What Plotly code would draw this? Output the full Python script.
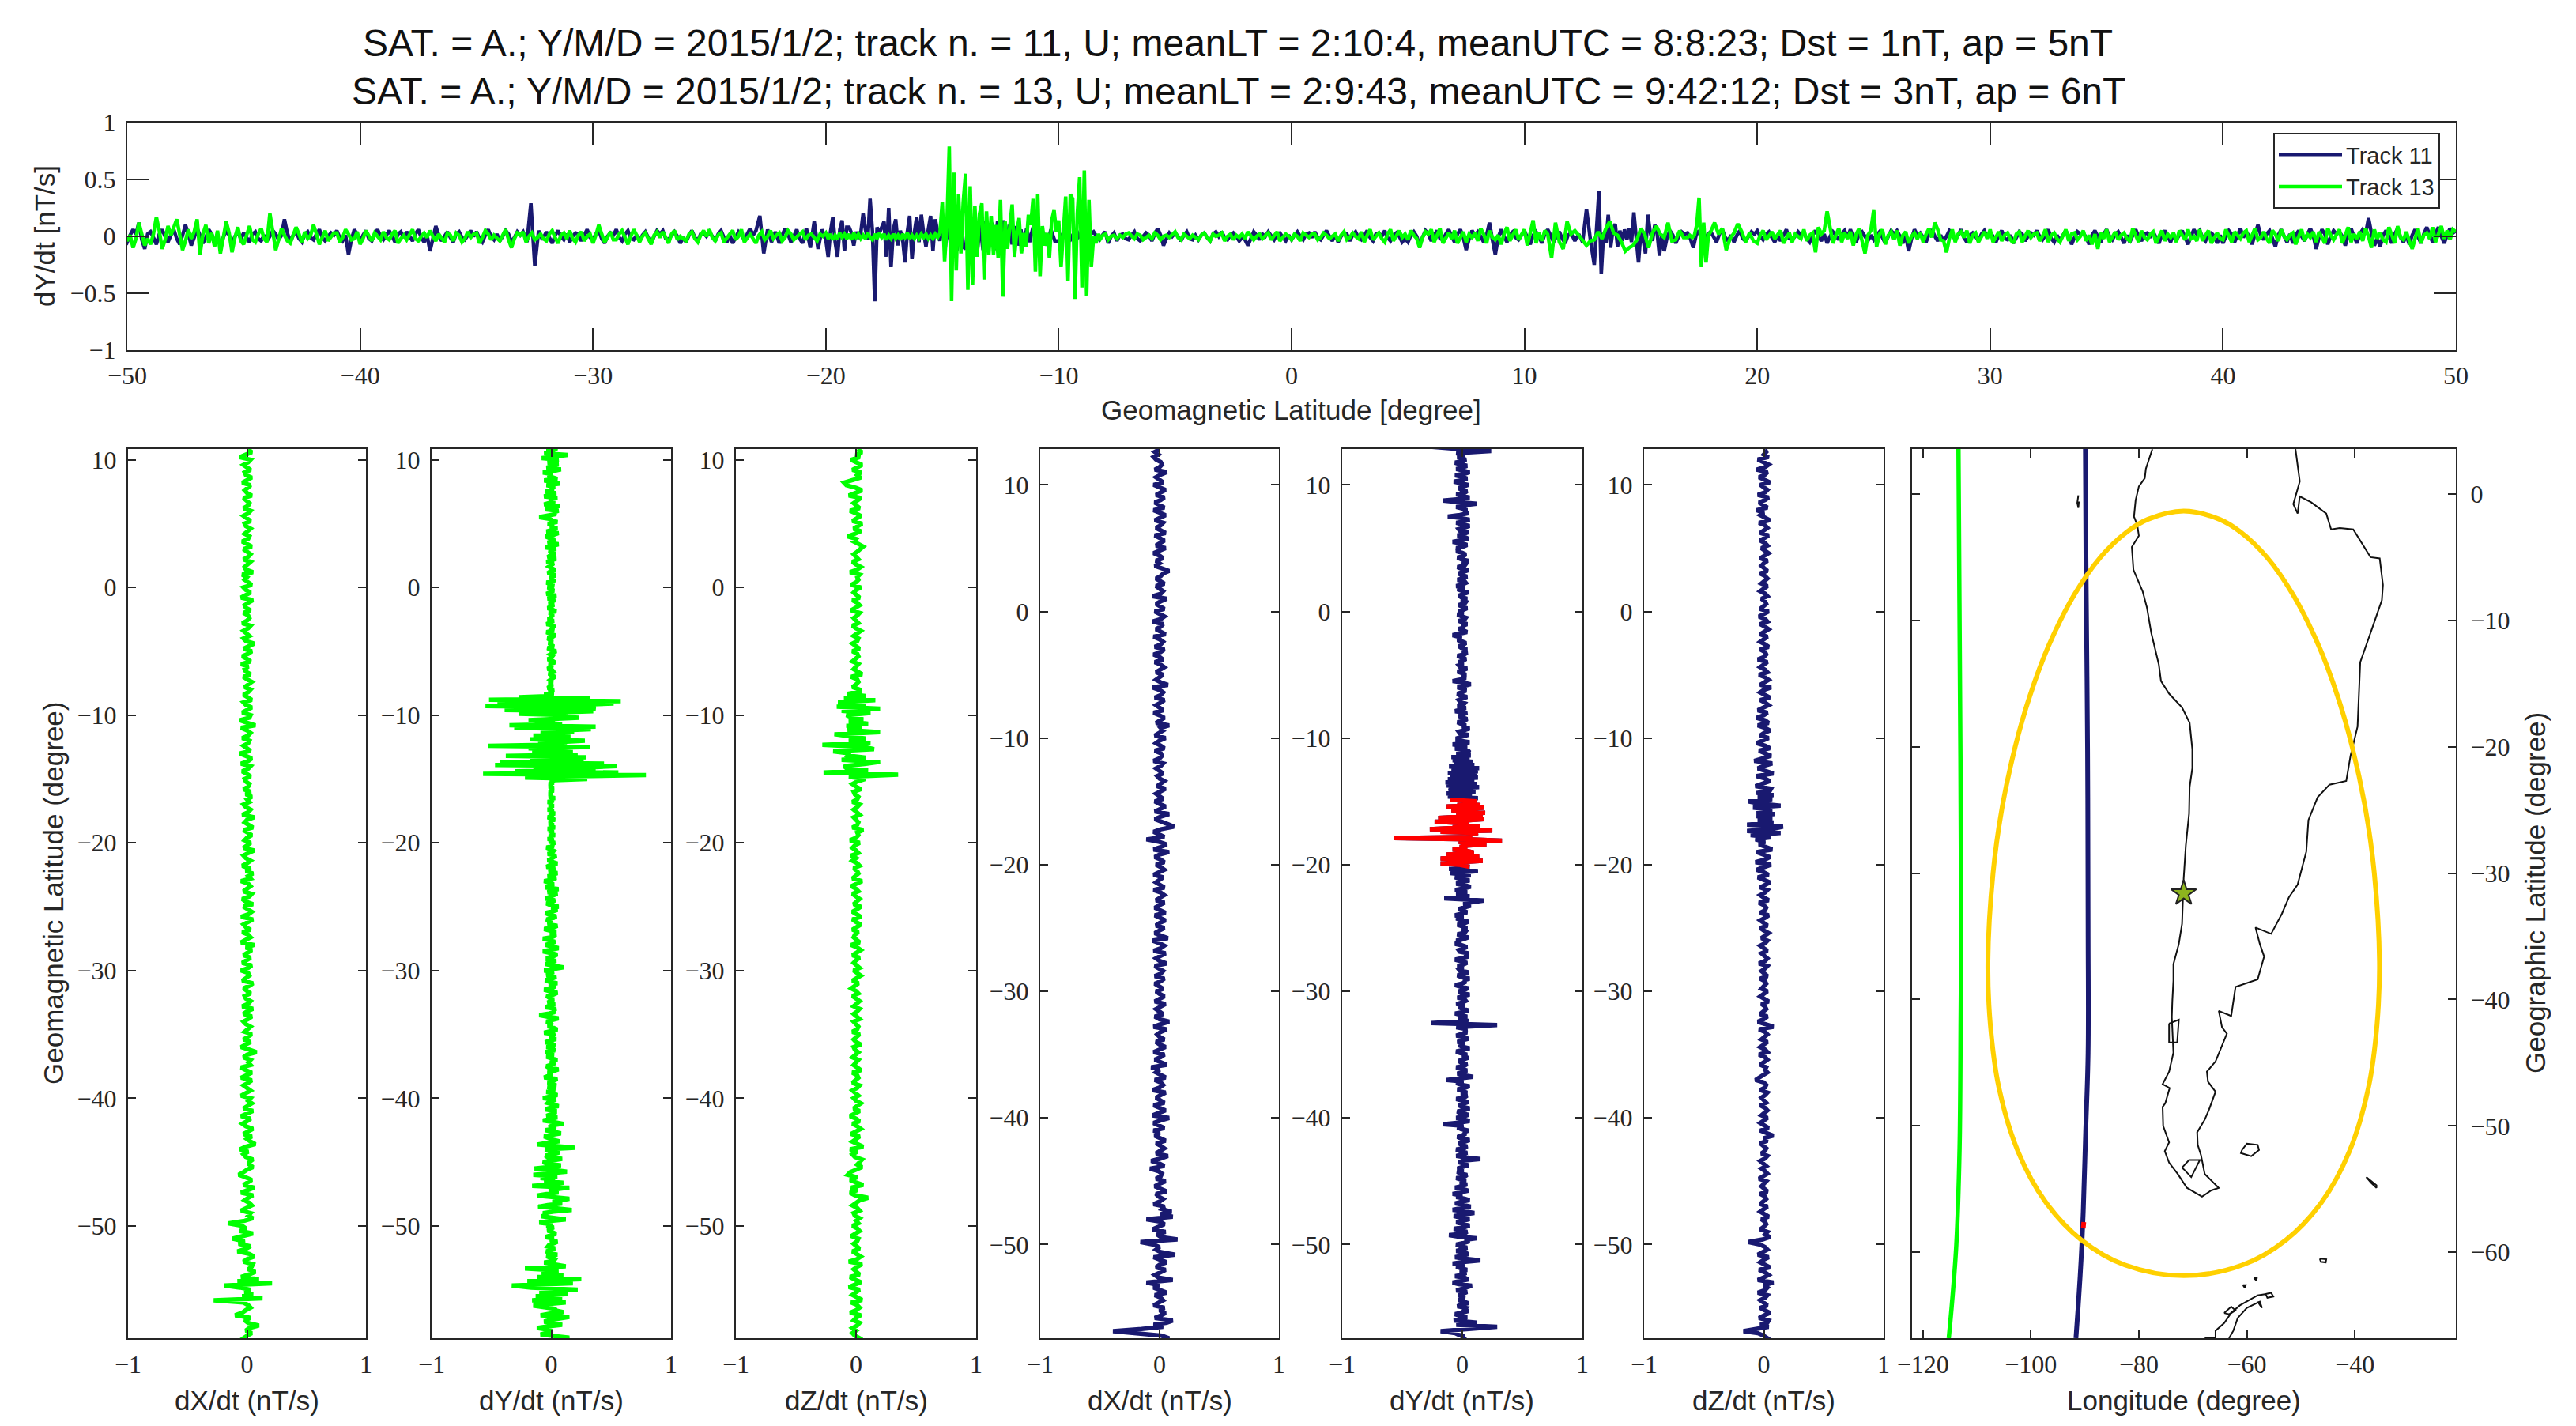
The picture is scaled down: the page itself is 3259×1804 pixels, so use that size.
"""Swarm A dB/dt tracks over South America, before the 2015 Illapel event."""
import plotly.graph_objects as go

FIG_W, FIG_H = 3259, 1804
PAGE_MARGIN = 8  # the browser's default body margin shifts the whole plot

TITLE_LINES = [
    "SAT. = A.; Y/M/D = 2015/1/2; track n. = 11, U; meanLT = 2:10:4, meanUTC = 8:8:23; Dst = 1nT, ap = 5nT",
    "SAT. = A.; Y/M/D = 2015/1/2; track n. = 13, U; meanLT = 2:9:43, meanUTC = 9:42:12; Dst = 3nT, ap = 6nT",
]

# values are in hundredths of nT/s, one row per degree of latitude going north
DY13_START = -59
dy13_rows = [
    [2,7,15,3,-9,-4,1,-3],[-12,-3,9,2,-6,-1,5,15],[-9,-2,10,4,3,-5,-15,-3],[12,-16,9,-13,14,-10],
    [22,-17,-33,18,-20,25],[-12,10,-8,6,-22,12],[4,-6,2,3,-1,-4,5,-2],[-4,1,3,-3,-2,2,5,-1],
    [2,-5,0,4,1,-3,-1,2],[-4,1,-10,-2,12,3,-8,-2],[-7,2,17,5,-11,-3,9,1],[8,15,2,-12,-4,6,-2,4],
    [15,-16,2,10,-6,3,-9,5],[-15,-2,13,3,-14,-1,8,-4],[-7,1,9,-3,-5,2,7,-2],[-5,20,4,-12,-3,7,1,-4],
    [-6,0,8,2,-5,4,-2,1],[10,2,-7,-1,5,-4,0,3],[3,-5,-1,6,2,-3,-2,4],[-7,-2,5,1,-4,3,0,-3],
    [4,-1,-3,2,5,-6,-2,1],[-3,1,6,-2,-4,0,3,-1],[5,0,-4,2,-1,-5,3,1],[-4,3,1,-5,-2,4,-1,2],
    [3,-6,-1,5,2,-3,1,-2],[-4,1,6,-3,-10,-2,3,1],[4,-5,0,3,-3,-1,2,-2],[-4,2,5,-1,-6,1,3,-2],
    [5,-2,-5,1,4,-4,0,2],[-6,1,10,2,-5,-1,4,-3],[-3,2,5,-1,-7,0,6,1],[-5,0,3,-2,-7,1,4,-1],
    [4,-1,-6,2,5,-3,0,-2],[-4,2,4,-2,-5,1,5,0],[6,-1,-4,1,3,-5,-1,2],[5,-3,0,6,-5,-1,2,-2],
    [-6,1,4,-3,0,5,-2,1],[3,-4,-1,5,2,-3,0,2],[4,-3,1,2,-1,-4,2,0],
    [3,-2,2,-3,1,-2,3,-1,2,-2],[2,-3,3,-1,2,-2,1,-2,3,-1],[-3,2,-2,3,-1,2,-3,1,-2,2],
    [-2,1,-3,2,-1,3,-2,1,-2,1],[-2,2,-1,2,-2,1,-2,2,-1,3],
    [30,-22,10,79,-57,56,-30,37,-15,30],[55,-47,44,-43,27,-18,20,29,-38,22],
    [-16,18,-16,10,-19,32,-53,13,-11,7],[28,-18,4,16,-15,3,-9,19,10,33],
    [-31,37,-35,9,-8,3,-19,14,23,4],[14,-27,5,35,-39,37,33,-55,20,52],
    [-45,58,-52,32,-27,0,-6,2,-2,1],
    [2,-3,0,1,-2,1,-1,2],[3,0,-2,2,1,-3,-1,1],[-2,3,1,-3,0,1,-1,2],[4,-1,-3,2,0,-2,1,-1],
    [-3,1,3,-1,-4,2,0,1],[3,-4,0,2,-3,1,-1,2],[-2,4,1,-3,0,2,-2,1],[3,-3,1,4,-4,-1,2,0],
    [-3,2,0,-4,3,1,-1,2],[2,-3,-1,3,1,-2,0,2],[-4,1,4,-3,-1,3,0,-2],[4,-5,1,6,-3,0,3,-2],
    [-5,2,6,-4,0,5,-1,2],[-3,5,1,-2,-10,-1,4,2],[6,-5,1,7,-6,-1,3,-2],[5,-6,0,4,-5,2,-1,3],
    [-4,7,2,-6,5,-1,-3,1],[-7,2,8,-4,1,6,-3,2],[6,-8,2,14,-6,3,-4,5],
    [2,-19,12,-5,-11,13],[2,5,1,-3,-8,-4],[-3,4,-2,7,13,3],[1,-5,-13,-10,-8,-3],[7,2,-10,3,9,2],
    [-1,12,-4,-3,5,-1],[-1,1,-1,1,10,34,-27,12,-23,1],[4,12,2,7,-12,-2],[3,11,4,-5,3,-4],
    [-6,1,5,-3,0,4,-2,2],[5,-6,-1,3,-5,2,0,-2],[6,-4,1,3,-14,8,2,5],[22,6,-6,1,7,-5,3,-2],
    [4,-8,2,7,-3,-15,1,5],[23,-9,2,6,-7,1,4,-3],[5,-8,1,4,-6,0,3,-2],[3,-5,2,7,-1,12,6,-3],
    [-4,-14,-2,6,-5,2,4,-1],[5,-6,1,3,-5,-1,4,-2],[6,-5,-1,4,-4,1,3,-3],[-6,2,4,-5,0,5,-1,2],
    [3,-4,0,6,-5,1,3,-2],[-5,1,6,-4,2,3,-3,0],[5,-4,1,-7,2,-11,3,-2],[6,-5,0,4,-3,1,3,-2],
    [-4,7,1,-5,5,-1,-3,2],[4,-6,0,5,-4,2,-1,3],[-5,5,1,-3,6,-2,0,-4],[6,-4,1,5,-6,-1,3,-2],
    [-3,6,0,-5,4,1,-2,3],[5,-5,1,7,-3,-1,4,-2],[-6,5,2,-4,6,0,-3,1],[3,-7,0,6,-4,2,-1,4],
    [-5,4,-1,-6,7,1,-3,2],[6,-6,1,8,-5,2,-2,4],[-4,7,0,-10,6,-2,3,-3],[-5,8,1,-6,9,-1,-3,4],
    [-4,-11,-2,7,-6,1,3,-2],[8,-5,2,9,-2,5,-3,6],[4],
]
DY11_START = -58
dy11_rows = [
    [1,2,-2,0,3,-1,2,-3],[-6,-18,8,29,-5,12],[-7,1,4,-2,-6,0,5,2],[3,-4,-1,5,1,-3,2,-1],
    [-3,1,4,-5,0,2,8,-3],[-8,-1,5,2,-6,1,3,-2],[4,-1,-5,2,-8,1,15,3],[-6,0,5,2,-5,1,4,-2],
    [-5,1,6,2,12,-3,-11,2],[4,-1,-7,2,6,0,-5,1],[6,-2,-7,1,10,2,-8,-1],[7,1,-6,-1,6,2,-5,0],
    [-8,-1,5,1,-6,0,4,-2],[3,-1,-5,2,4,-2,-4,1],[-4,0,5,2,-3,1,15,3],[-5,1,4,-2,-5,2,4,-1],
    [-3,2,6,-1,-4,0,3,1],[5,-1,-4,1,-16,-3,6,2],[-5,1,5,-2,-4,2,6,0],[-3,1,5,0,-5,2,4,-1],
    [4,0,-4,2,6,-1,-5,1],[-13,-2,9,1,-4,0,4,-1],[-5,2,4,-1,-3,1,5,0],[4,-2,-5,1,6,0,-3,2],
    [-4,0,5,2,-5,-1,4,1],[4,-5,29,-26,5,-3],[4,-1,-6,1,5,0,-3,2],[-5,0,3,2,-4,1,6,-1],
    [-3,2,5,-2,-6,0,3,1],[6,-1,-4,2,5,-2,-3,1],[-4,1,4,-1,-6,0,5,2],[5,-2,-3,1,4,0,-6,-1],
    [-5,1,5,-1,-4,2,3,0],[4,0,-4,2,5,-1,-5,1],[-6,-1,4,1,-3,2,7,1],[5,18,-15,6,-5,4],
    [-6,1,7,2,-5,0,6,-2],[-6,7,-10,13,-11,6],
    [-3,-18,4,17,-5,-18,6,14,-13,8],[8,3,-8,4,-2,3,20,6,-3,33],[5,-57,8,3,9,13,-18,25,-27,6],
    [15,-8,5,-3,-23,4,18,-20,3,17],[-5,19,3,-9,6,18,-13,15,4,-4],
    [12,-10,13,-12,8,-13,11,-9],[-11,14,-13,12,-14,10,-12,13],[-10,12,-12,13,-9,14,-11,10],
    [-7,9,-8,6,-9,7,-5,6],[5,-6,4,-8,6,-4],
    [-4,1,5,-2,-3,2,6,0],[3,-1,-4,2,4,0,-3,1],[4,-6,0,3,-4,1,2,-2],[-3,1,4,-2,-4,0,3,1],
    [-4,2,7,1,-8,-2,3,0],[3,0,-4,1,4,-2,-3,1],[-3,1,3,-1,-4,2,4,0],[4,-1,-3,1,3,0,-4,-1],
    [-3,-8,-1,4,1,-3,2,0],[4,0,-3,2,3,-1,-4,1],[-3,1,4,0,-3,2,3,-1],[4,-1,-3,1,5,0,-4,2],
    [-5,0,3,2,-4,1,4,-1],[-3,1,5,-1,-4,2,3,0],[5,-1,-4,1,3,0,-5,-2],[-5,1,4,0,-8,-1,5,2],
    [-4,1,5,-2,-3,2,6,0],[-5,2,6,-1,-12,-2,5,1],[4,0,-5,1,12,-3,-16,-1],[6,0,-5,2,4,-1,-3,1],
    [5,-1,-7,1,4,0,-6,2],[6,1,-5,0,4,-2,-6,1],[3,-4,2,-5,24,-3],
    [-25,7,40,-33,3,-6,19,-10,5,11],[-9,5,-4,6,-3,7,-5,21,-6,-23],[4,-3,-15,19,4,-4,10,3,-17,2],
    [-13,-1,5,1,-6,0,4,2],[3,-2,-10,1,5,-1,-4,2],[4,0,-5,2,6,-1,-4,1],[-5,1,5,-2,-4,0,4,2],
    [5,0,-3,2,4,-1,-5,1],[-4,1,6,-2,-3,0,4,1],[3,-2,-5,1,5,0,-4,2],[-6,0,4,1,-3,2,5,-1],
    [6,-1,-5,2,4,0,-4,1],[-3,1,4,-1,-6,0,5,2],[5,0,-6,1,-13,-2,6,1],[3,-1,-5,2,6,0,-4,1],
    [-4,0,5,2,-3,1,6,-1],[-5,1,3,0,-4,2,5,-1],[4,0,-5,1,5,-2,-3,1],[-6,-1,4,2,-4,0,3,1],
    [5,0,-3,1,6,-2,-5,1],[-4,1,5,0,-7,-1,4,2],[3,-1,-7,1,5,0,-5,2],[6,0,-3,2,4,-1,-6,1],
    [-5,1,6,0,-4,2,3,-1],[4,-1,-6,1,5,0,-5,2],[-3,1,5,-1,-7,0,6,2],[5,-1,-4,2,3,0,-6,1],
    [-6,0,5,2,-5,1,7,-1],[4,0,-7,2,10,1,-3,2],[5,-2,-9,1,6,0,-5,2],[-6,1,5,0,-4,2,7,1],
    [-11,-1,6,2,-7,0,5,2],[4,0,-8,1,7,0,-6,2],[6,2,16,3,-8,-2,-9,1],[5,0,-6,2,7,-1,-5,1],
    [-7,1,6,0,-6,2,8,1],[-5,2,8,0,-6,1,7,3],[5],
]
DX13_START = -59
dx13_rows = [
    [1,-3,0,4,-1],[2,10,1,-2,3],[-10,-4,-1,3,1],[-3,-28,13,-4,5,-2],[3,-6,-19,21,-8,10],
    [-5,2,7,1,4],[5,-3,0,6,2],[-8,-1,3,-7,-2],[-12,-2,5,-6,-1],[-4,-16,-2,5,1],
    [3,-5,-1,4,2],[-2,1,5,-5,0],[6,-3,1,4,-1],[-7,-3,0,5,2],[2,5,-1,-3,1],
    [-6,-1,7,3,0],[4,-3,1,5,-1],[-4,0,3,-5,1],[5,-3,0,4,1],[3,-5,-1,3,0],
    [-3,1,4,-5,-1],[4,-1,-5,3,1],[3,-3,0,8,2],[-5,-1,3,-3,1],[4,-2,1,3,-1],
    [-3,1,4,-3,0],[5,-4,1,3,-1],[-2,3,0,-3,2],[5,-4,-1,2,1],[-5,1,4,-4,0],
    [3,-3,1,4,-1],[6,-5,0,3,1],[-4,3,-1,-3,2],[5,-5,1,4,0],[-3,5,-1,-4,2],
    [4,-3,0,3,1],[-5,3,1,5,-1],[3,-4,0,3,-1],[-3,1,6,-3,0],[3,-2,0,4,1],
    [-3,5,1,-2,0],[6,-4,1,3,-1],[-3,2,0,4,-1],[3,-3,1,2,-1],[-2,3,0,-4,1],
    [3,-5,1,4,-1],[-6,3,0,-3,1],[2,-4,1,3,0],[-5,7,0,-6,2],[3,-4,1,4,-1],
    [-3,4,0,-3,1],[3,-2,1,4,0],[-3,3,-1,-2,1],[-5,3,0,-4,1],[4,-3,1,6,-1],
    [-3,2,0,-3,1],[3,-4,0,2,1],[-3,3,-1,-2,1],[5,-5,0,3,-1],[-3,4,1,-2,0],
    [-4,5,-1,-2,1],[3,-3,1,3,0],[-3,4,0,-4,1],[2,-2,1,3,-1],[-2,3,0,-3,1],
    [3,-3,1,2,-1],[-3,4,0,-2,1],[3,-4,1,4,-1],[-2,3,0,-3,1],[3,-6,0,4,1],
]
DZ13_START = -59
dz13_rows = [
    [1,3,-1,-3,0],[-3,1,3,-2,0],[4,-5,0,3,1],[-4,5,1,-3,0],[3,-6,0,4,-1],
    [-5,3,0,-2,1],[5,-6,1,4,0],[-3,3,0,-2,1],[2,-4,0,3,1],[-3,2,0,3,-1],
    [-2,3,1,-3,0],[3,10,-1,-5,1],[-4,6,0,-5,1],[-7,-5,0,5,1],[3,5,-1,-3,1],
    [-5,6,1,-3,0],[3,-4,0,4,1],[-3,3,0,-5,-1],[3,-2,1,4,0],[-2,2,0,-3,1],
    [3,-3,0,2,1],[-3,4,1,-2,0],[2,-3,0,2,-1],[-2,4,0,-2,1],[3,-3,1,2,0],
    [-2,3,0,-2,1],[3,-2,1,3,0],[-3,2,0,-4,-1],[2,-3,0,4,1],[-2,3,1,-2,0],
    [3,-3,0,4,1],[-4,3,0,-2,-1],[2,-3,1,4,0],[-3,4,0,-3,1],[4,-2,1,3,0],
    [-3,2,0,-4,1],[5,-3,0,2,1],[-2,3,1,-3,0],[-4,2,0,-3,-1],[3,-5,0,2,1],
    [6,-3,1,2,0],[-2,3,0,-2,1],[3,-3,1,2,-1],[-2,4,0,-3,1],
    [8,-6,35,-27,10,-8],[-10,7,20,-12,8,-7],[-6,-19,15,7,-28,12],[-6,8,-9,-18,20,-7],[5,-8,10,-6,6,-4],
    [-8,12,-12,20,-16,8],[-15,16,-10,8,-7,3],
    [3,-3,0,2,1],[-4,5,1,-2,0],[2,-3,0,2,1],[-3,3,0,-3,1],[2,-2,1,4,0],
    [-3,2,0,-2,1],[3,-4,0,3,1],[-3,3,1,-2,0],[4,-4,0,2,1],[3,-5,1,4,0],
    [-3,2,0,-2,1],[3,6,2,-2,0],[-7,-1,4,-2,1],[5,-3,1,4,0],[-5,3,0,-2,1],
    [4,-6,1,5,0],[-8,-10,-2,4,1],[4,-3,1,5,0],[-4,3,0,5,1],
]
DX11_START = -58
dx11_rows = [
    [-3,-4,0,8,2],[-26,-39,-15,3,-5,6],[11,-4,1,5,0],[4,-5,0,3,1],[-4,6,1,-5,0],
    [-11,11,-1,-4,1],[5,-3,0,6,1],[-5,13,1,-3,0],[-5,-16,15,1,-2],[5,-6,0,4,1],
    [-11,11,1,10,2],[4,-5,0,3,-1],[-3,6,1,-4,0],[5,-3,1,2,-1],[-8,4,0,-7,1],
    [7,-3,0,4,1],[-3,5,1,-4,0],[-5,4,0,-5,1],[8,-6,1,5,0],[-5,4,0,-3,1],
    [5,-6,0,3,1],[-4,5,1,-3,0],[-7,6,0,-4,1],[4,-5,1,5,0],[-3,4,0,-2,1],
    [6,-5,1,8,0],[-4,3,0,-3,1],[5,-4,1,4,0],[-3,3,0,-4,1],[4,-4,1,3,0],
    [-4,6,0,-3,1],[5,-5,1,4,0],[-6,7,1,-4,0],[4,-3,0,5,1],[-4,5,1,-4,0],
    [4,-3,0,4,1],[-5,4,1,-3,0],[3,-5,0,4,1],[-3,4,1,-4,0],[8,-5,1,6,0],
    [-11,4,0,-5,1],[12,7,0,-4,1],[8,-4,1,5,0],[-4,3,0,-3,1],[5,-2,1,4,0],
    [-2,3,0,-3,1],[3,-5,0,2,1],[-4,4,1,-3,0],[5,-4,0,3,1],[8,-3,1,4,0],
    [-5,3,0,-3,1],[4,-4,1,3,0],[-6,7,1,-3,0],[3,-3,0,4,1],[-4,3,0,-5,1],
    [4,-4,1,3,0],[-5,5,0,-3,1],[3,-6,1,4,0],[-4,4,0,-3,1],[6,-6,1,3,0],
    [-3,4,0,-3,1],[3,8,1,-4,0],[-3,3,0,-5,1],[5,-3,1,4,0],[-4,5,0,-3,1],
    [3,-4,1,5,0],[-5,4,0,-4,1],[4,-3,1,5,0],[-5,3,0,-3,1],[6,-4,0,2,1],[-3,-5,-1,-4,0],
]
DZ11_START = -58
dz11_rows = [
    [-3,5,1,3,0],[-5,-17,-6,4,-3,3],[4,-4,0,5,1],[-3,3,0,-3,1],[3,-5,1,3,0],
    [8,-5,0,4,1],[-4,5,1,-3,0],[4,-5,0,3,1],[-3,-13,-1,5,1],[3,-3,0,2,1],
    [-2,4,1,-3,0],[3,-3,0,2,1],[-3,3,1,-2,0],[2,-4,0,3,1],[-2,2,0,-3,1],
    [3,-2,1,2,0],[-3,3,0,8,2],[-3,4,1,-3,0],[3,-2,0,3,1],[-3,2,0,-2,1],
    [3,-3,1,2,0],[-7,-4,0,3,1],[2,-3,0,3,1],[-4,3,1,-3,0],[3,-2,0,3,1],
    [-4,8,1,-5,0],[3,-3,0,2,1],[-2,4,1,-3,0],[3,-2,0,2,1],[-3,3,0,-2,1],
    [3,-4,1,3,0],[-2,3,0,-3,1],[3,-2,1,4,0],[-3,3,0,-3,1],[4,-3,1,2,0],
    [-4,4,0,-3,1],[3,-3,1,5,0],[-5,4,0,-6,1],[6,-7,1,5,0],[-6,7,0,-4,1],
    [-7,6,-11,14,-14,8],[16,-14,8,-5,7,-6],[9,-6,7,-9,14,-4],[-13,7,-5,8,-6,5],[6,-7,0,5,1],
    [-6,8,1,-5,0],[7,-8,0,6,1],[-4,5,1,-6,0],[4,-3,0,5,1],[-5,4,1,-6,0],
    [3,-5,0,4,1],[-3,5,1,-3,0],[6,-3,0,4,1],[-4,3,1,-3,0],[3,-5,0,2,1],
    [-3,4,1,-3,0],[3,-3,0,4,1],[-3,3,1,-4,0],[4,-3,0,2,1],[-2,3,1,-3,0],
    [3,-2,0,3,1],[-3,3,1,-2,0],[3,-3,0,4,1],[-2,3,1,-3,0],[4,-3,0,3,1],
    [-4,5,1,-3,0],[-6,3,0,-4,1],[4,-5,1,3,0],[-3,5,0,-4,1],[3,-6,1,4,0],[-5,4,0,2,1],
]

# red stretch of track 11 (anomalous dY/dt window)
RED_LAT_MIN, RED_LAT_MAX = -20.3, -14.8

coast_lon = [
    -77.5,-78.1,-78.7,-78.9,-80,-80.6,-80.9,-80.3,-80,-81.3,-81,-79.3,-78.5,-77.7,-76.3,-75.9,-74.4,-72,-70.6,
    -70.1,-70.1,-70.6,-70.7,-71.3,-71.7,-72,-72.6,-73.6,-73.6,-73.8,-73.9,-73.6,-74.4,-75.6,-74.3,-75.1,-75.6,
    -75.5,-74.4,-75.2,-74.4,-72.8,-71.1,-68.3,-66.6,-65.2,-67.8,-68.5,-69.1,-69.2,-67.8,-67,-65.8,-67.2,-67.4,
    -65.8,-64.6,-63.7,-64.6,-65.2,-62.9,-62.1,-58,-56.8,-57.6,-58.4,-55.5,-53.5,-52.2,-50.6,-49,-48.6,-46.9,
    -44.7,-41.6,-40.8,-39.5,-39,-36.7,-35,-34.8,-35.4,-37.1,-40.3,-42.8,-44.4,-45.3,-48.1,-50.2,-50.6,-51.4,-50.2,-51,
]
coast_lat = [
    3.55,2.8,2,1.25,0.6,-0.5,-1.8,-2.45,-3.3,-4.2,-6,-7.7,-9,-11,-13.5,-14.8,-15.8,-16.9,-18.1,
    -20.2,-21.7,-23.2,-25.3,-27.8,-30.4,-34,-35.6,-37.2,-38.5,-40.1,-41.4,-44.2,-45.7,-46.7,-47,-48.2,-48.5,
    -50,-51.3,-52,-52.9,-53.8,-54.9,-55.6,-55.1,-54.9,-53.8,-52.3,-51.5,-50.5,-49.5,-48.7,-47.3,-46.5,-45.7,
    -44.9,-43.7,-42.7,-42.2,-40.9,-41.3,-39,-38.4,-36.6,-35.6,-34.3,-34.8,-33.2,-31.9,-30.9,-28.3,-25.8,-24,
    -23,-22.7,-20.7,-18.4,-13.3,-10.5,-8.4,-7.2,-5.1,-5,-2.8,-2.7,-2.8,-1.55,-0.66,-0.2,-1.55,-0.8,1,3.55,
]
# each island: (lons, lats)
islands = [
    ([-91.2,-91.4,-91.2,-91.1], [-0.1,-0.7,-1.1,-0.6]),
    ([-60.9,-60,-58,-57.75,-59.2,-61.1,-60.9], [-51.9,-51.4,-51.5,-51.9,-52.4,-52.15,-51.9]),
    ([-37.9,-36,-36,-37,-37.9], [-54.05,-54.7,-54.9,-54.5,-54.05]),
    ([-46.5,-45.3,-45.4,-46.3,-46.5], [-60.5,-60.55,-60.8,-60.75,-60.5]),
    ([-60.7,-60.2,-60.4,-60.7], [-62.6,-62.6,-62.8,-62.6]),
    ([-58.7,-58.1,-58.3,-58.7], [-62.05,-62,-62.2,-62.05]),
    ([-56.5,-55.5,-55.1,-56.2,-56.5], [-63.3,-63.2,-63.5,-63.6,-63.3]),
    ([-64.2,-62.9,-62.1,-63.3,-64.2], [-64.8,-64.3,-64.6,-64.9,-64.8]),
    ([-74.4,-72.6,-72.9,-74.4,-74.4], [-41.9,-41.6,-43.4,-43.4,-41.9]),
    ([-72,-70.7,-68.7,-70.3,-71.5,-72], [-53.3,-52.7,-52.7,-54.05,-53.5,-53.3]),
    ([-67.8,-65.8,-65.8,-64.2,-62.9,-61.3,-58,-56.4], [-66.8,-66.8,-66.2,-65.6,-64.8,-64.2,-63.4,-63.3]),
    ([-63.3,-62.5,-61.7,-60,-57.6,-57.2,-58], [-66.8,-66.2,-65.2,-64.4,-63.9,-64.4,-63.9]),
]
ring_lon = [
    -71.7,-78.3,-82.2,-87.1,-92,-96.7,-100.2,-102.9,-105.4,-107,-107.95,-107.5,-105.9,-102.4,-97.3,-90.7,-82.6,
    -71.7,-60.8,-52.7,-46.1,-41,-37.5,-35.9,-35.45,-36.4,-38,-40.5,-43.2,-46.7,-51.4,-56.3,-61.2,-65.1,-71.7,
]
ring_lat = [
    -1.35,-2,-3,-5,-8,-12,-16,-20,-25,-30,-37,-42,-47,-52,-56,-59,-61,
    -61.85,-61,-59,-56,-52,-47,-42,-37,-30,-25,-20,-16,-12,-8,-5,-3,-2,-1.35,
]
track13_lon = [-113.4,-113.2,-112.9,-113,-113.2,-113.8,-114.6,-115.2]
track13_lat = [3.56,-10,-34,-41.6,-51.8,-59.4,-64,-66.8]
track11_lon = [-89.9,-89.8,-89.5,-89.4,-89.4,-89.85,-90.3,-90.7,-91.25,-91.65]
track11_lat = [3.56,-4.9,-20.2,-34.5,-44.2,-50.5,-56.8,-60.6,-64.4,-66.8]
red_map_lon = [-90.2,-90.3]
red_map_lat = [-57.6,-58.1]
epicentre_lon = [-71.7]
epicentre_lat = [-31.6]

GREEN = "#00ff00"
NAVY = "#191970"
RED = "#ff0000"
GOLD = "#ffd000"
INK = "#262626"
SERIF = "Liberation Serif"
SANS = "Liberation Sans"


def expand(rows, start):
    """Turn per-degree rows into (lat, value) lists."""
    lats, vals = [], []
    for i, row in enumerate(rows):
        for j, v in enumerate(row):
            lats.append(start + i + j / len(row))
            vals.append(v / 100)
    return lats, vals


def px_x(left, right):
    return [(left - PAGE_MARGIN) / FIG_W, (right - PAGE_MARGIN) / FIG_W]


def px_y(top, bottom):
    return [1 - (bottom - PAGE_MARGIN) / FIG_H, 1 - (top - PAGE_MARGIN) / FIG_H]


def style_axis(**kw):
    base = dict(
        showgrid=False, zeroline=False, showline=True, linecolor=INK, linewidth=2,
        mirror="ticks", ticks="inside", tickcolor=INK, tickwidth=2, automargin=False,
        tickfont=dict(family=SERIF, size=32, color=INK),
    )
    base.update(kw)
    return base


def label(text, x, y, size=35, angle=0, colour=INK):
    return dict(text=text, x=(x - PAGE_MARGIN) / FIG_W, y=1 - (y - PAGE_MARGIN) / FIG_H,
                xref="paper", yref="paper", xanchor="center", yanchor="middle",
                showarrow=False, textangle=angle,
                font=dict(family=SANS, size=size, color=colour))


lat13_y, val13_y = expand(dy13_rows, DY13_START)
lat11_y, val11_y = expand(dy11_rows, DY11_START)
lat13_x, val13_x = expand(dx13_rows, DX13_START)
lat13_z, val13_z = expand(dz13_rows, DZ13_START)
lat11_x, val11_x = expand(dx11_rows, DX11_START)
lat11_z, val11_z = expand(dz11_rows, DZ11_START)
red_pts = [(v, la) for la, v in zip(lat11_y, val11_y) if RED_LAT_MIN <= la <= RED_LAT_MAX]

fig = go.Figure()

# top panel
fig.add_trace(go.Scatter(x=lat11_y, y=val11_y, mode="lines", name="Track 11",
                         line=dict(color=NAVY, width=4.5), xaxis="x", yaxis="y"))
fig.add_trace(go.Scatter(x=lat13_y, y=val13_y, mode="lines", name="Track 13",
                         line=dict(color=GREEN, width=4.5), xaxis="x", yaxis="y"))

fig.update_layout(
    xaxis=style_axis(
        domain=px_x(161, 3107), anchor="y", range=[-50, 50], tickvals=list(range(-50, 51, 10)),
        ticklen=28, ticklabelstandoff=3,
    ),
    yaxis=style_axis(
        domain=px_y(155, 443), anchor="x", range=[-1, 1], tickvals=[-1, -0.5, 0, 0.5, 1],
        ticktext=["\u22121", "\u22120.5", "0", "0.5", "1"], ticklen=28, ticklabelstandoff=6,
    ),
)

# lower strips: (left, right, lat range, series, colour, x title)
RANGE13 = [-58.8, 10.84]
RANGE11 = [-57.4, 12.83]
strips = [
    (162, 463, RANGE13, lat13_x, val13_x, GREEN, "dX/dt (nT/s)"),
    (546, 849, RANGE13, lat13_y, val13_y, GREEN, "dY/dt (nT/s)"),
    (931, 1235, RANGE13, lat13_z, val13_z, GREEN, "dZ/dt (nT/s)"),
    (1316, 1618, RANGE11, lat11_x, val11_x, NAVY, "dX/dt (nT/s)"),
    (1698, 2002, RANGE11, lat11_y, val11_y, NAVY, "dY/dt (nT/s)"),
    (2080, 2383, RANGE11, lat11_z, val11_z, NAVY, "dZ/dt (nT/s)"),
]
labels = [
    label(TITLE_LINES[0], 1566, 54, size=48, colour="#111111"),
    label(TITLE_LINES[1], 1567, 116, size=48, colour="#111111"),
    label("Geomagnetic Latitude [degree]", 1633, 519),
    label("dY/dt [nT/s]", 56, 299, angle=-90),
    label("Geomagnetic Latitude (degree)", 67, 1130, angle=-90),
    label("Longitude (degree)", 2763, 1771),
    label("Geographic Latitude (degree)", 3207, 1130, angle=-90),
]
for n, (left, right, lat_range, lats, vals, colour, xtitle) in enumerate(strips):
    idx = n + 2
    fig.add_trace(go.Scatter(x=vals, y=lats, mode="lines", showlegend=False,
                             line=dict(color=colour, width=5.5), xaxis=f"x{idx}", yaxis=f"y{idx}"))
    fig.layout[f"xaxis{idx}"] = style_axis(
        domain=px_x(left, right), anchor=f"y{idx}", range=[-1, 1], tickvals=[-1, 0, 1],
        ticklen=10, ticklabelstandoff=4,
    )
    fig.layout[f"yaxis{idx}"] = style_axis(
        domain=px_y(568, 1693), anchor=f"x{idx}", range=lat_range,
        tickvals=list(range(-50, 11, 10)), ticklen=10, ticklabelstandoff=6,
    )
    labels.append(label(xtitle, (left + right) / 2, 1771))

# red window on the track 11 dY strip
fig.add_trace(go.Scatter(x=[p[0] for p in red_pts], y=[p[1] for p in red_pts], mode="lines",
                         showlegend=False, line=dict(color=RED, width=5.5), xaxis="x6", yaxis="y6"))

# map panel
map_axes = dict(xaxis="x8", yaxis="y8", showlegend=False)
fig.add_trace(go.Scatter(x=coast_lon, y=coast_lat, mode="lines",
                         line=dict(color="#111111", width=2), **map_axes))
for isl_lon, isl_lat in islands:
    fig.add_trace(go.Scatter(x=isl_lon, y=isl_lat, mode="lines",
                             line=dict(color="#111111", width=2), **map_axes))
fig.add_trace(go.Scatter(x=track13_lon, y=track13_lat, mode="lines",
                         line=dict(color=GREEN, width=5.5, shape="spline"), **map_axes))
fig.add_trace(go.Scatter(x=track11_lon, y=track11_lat, mode="lines",
                         line=dict(color=NAVY, width=6, shape="spline"), **map_axes))
fig.add_trace(go.Scatter(x=red_map_lon, y=red_map_lat, mode="lines",
                         line=dict(color=RED, width=6), **map_axes))
fig.add_trace(go.Scatter(x=ring_lon, y=ring_lat, mode="lines",
                         line=dict(color=GOLD, width=6, shape="spline"), **map_axes))
fig.add_trace(go.Scatter(x=epicentre_lon, y=epicentre_lat, mode="markers",
                         marker=dict(symbol="star", size=24, color="#8db41e",
                                     line=dict(color="#222222", width=2)), **map_axes))
fig.layout["xaxis8"] = style_axis(
    domain=px_x(2419, 3107), anchor="y8", range=[-122, -21.3], tickvals=list(range(-120, -39, 20)),
    ticklen=11, ticklabelstandoff=4,
)
fig.layout["yaxis8"] = style_axis(
    domain=px_y(568, 1693), anchor="x8", side="right", range=[-66.8, 3.56],
    tickvals=list(range(-60, 1, 10)), ticklen=10, ticklabelstandoff=10,
)

fig.update_layout(
    width=FIG_W, height=FIG_H, autosize=False,
    margin=dict(l=0, r=0, t=0, b=0),
    paper_bgcolor="white", plot_bgcolor="white",
    legend=dict(
        x=(3087 - PAGE_MARGIN) / FIG_W, xanchor="right", y=1 - (168 - PAGE_MARGIN) / FIG_H, yanchor="top",
        bgcolor="white", bordercolor=INK, borderwidth=2, itemwidth=80,
        font=dict(family=SANS, size=29, color=INK), tracegroupgap=0,
    ),
    annotations=labels,
)

fig.write_html("out.html")
